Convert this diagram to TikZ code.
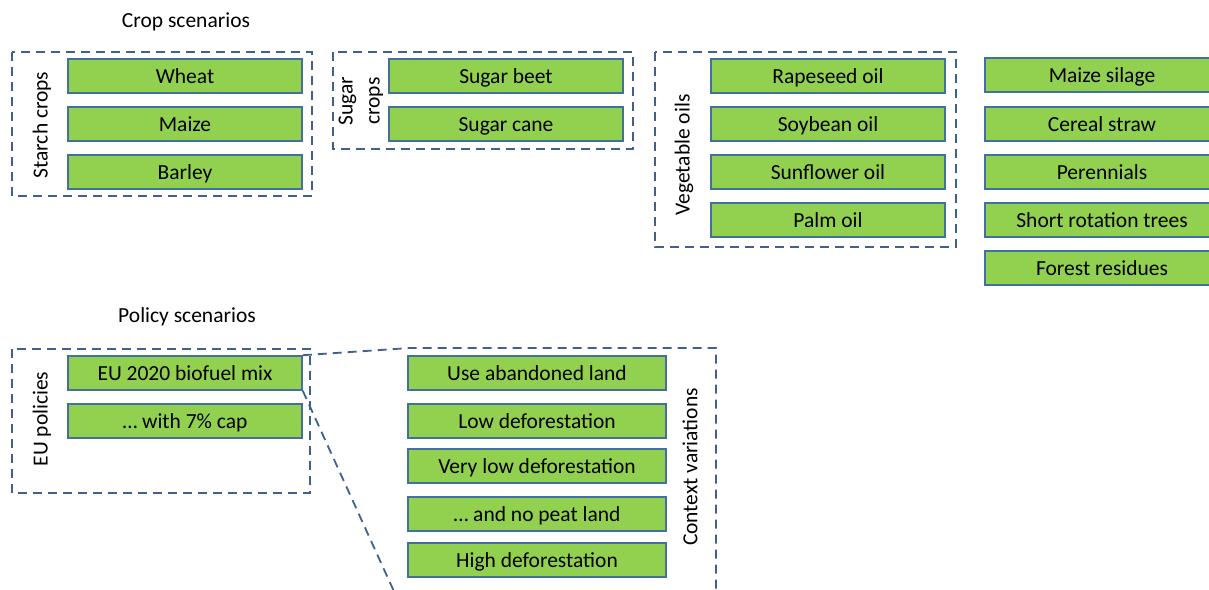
\documentclass[tikz,border=0pt]{standalone}
\usepackage{fontspec}
\setmainfont{Carlito}
\definecolor{cropgreen}{HTML}{92D050}
\definecolor{boxblue}{HTML}{41719C}
\definecolor{frameblue}{HTML}{3F6190}
\tikzset{
  crop/.style={rectangle, draw=boxblue, fill=cropgreen, line width=1.6pt,
    minimum width=234pt, minimum height=34pt, inner sep=0pt,
    text height=16pt, text depth=2pt},
  wide/.style={crop, minimum width=258pt},
  frame/.style={draw=frameblue, line width=1.8pt, dash pattern=on 9pt off 6pt},
  lbl/.style={rotate=90, align=center}
}
\begin{document}
\begin{tikzpicture}[x=1pt,y=-1pt,font=\fontsize{21.5}{27}\selectfont]
        \useasboundingbox (0,0) rectangle (1209,589);
        \clip (0,0) rectangle (1209,589);
        % crop scenarios
        \node (croptitle) at (186,22) {Crop scenarios};
        \node[crop] (wheat) at (185,76) {Wheat};
        \node[crop] (maize) at (185,124) {Maize};
        \node[crop] (barley) at (185,172) {Barley};
        \node[lbl] (starch) at (42,125) {Starch crops};
        \draw[frame] (12,52) rectangle (312,196);
        \node[crop] (beet) at (506,76) {Sugar beet};
        \node[crop] (cane) at (506,124) {Sugar cane};
        \node[lbl] (sugar) at (361,101) {Sugar\\crops};
        \draw[frame] (333,52) rectangle (633,149);
        \node[crop] (rapeseed) at (828,76) {Rapeseed oil};
        \node[crop] (soybean) at (828,124) {Soybean oil};
        \node[crop] (sunflower) at (828,172) {Sunflower oil};
        \node[crop] (palm) at (828,220) {Palm oil};
        \node[lbl] (vegoils) at (684,155) {Vegetable oils};
        \draw[frame] (655,52) rectangle (956,247);
        \node[crop] (silage) at (1102,75) {Maize silage};
        \node[crop] (straw) at (1102,124) {Cereal straw};
        \node[crop] (perennials) at (1102,172) {Perennials};
        \node[crop] (trees) at (1102,220) {Short rotation trees};
        \node[crop] (residues) at (1102,268) {Forest residues};
        % policy scenarios
        \node (policytitle) at (187,317) {Policy scenarios};
        \node[crop] (eumix) at (185,373) {EU 2020 biofuel mix};
        \node[crop] (eucap) at (185,421) {\dots\ with 7\% cap};
        \node[lbl] (eupol) at (42,419) {EU policies};
        \draw[frame] (12,349) rectangle (310,493);
        \node[wide] (abandoned) at (537,373) {Use abandoned land};
        \node[wide] (lowdef) at (537,421) {Low deforestation};
        \node[wide] (vlowdef) at (537,466) {Very low deforestation};
        \node[wide] (nopeat) at (537,514) {\dots\ and no peat land};
        \node[wide] (highdef) at (537,560) {High deforestation};
        \node[lbl] (context) at (690,467) {Context variations};
        \coordinate (ctxnw) at (410,348);
        \coordinate (ctxne) at (716,348);
        \coordinate (ctxse) at (716,620);
        \coordinate (ctxsw) at (407,620);
        \draw[frame] (eumix.north east) -- (ctxnw) -- (ctxne) -- (ctxse);
        \draw[frame] (eumix.south east) -- (ctxsw);
    \end{tikzpicture}
\end{document}
